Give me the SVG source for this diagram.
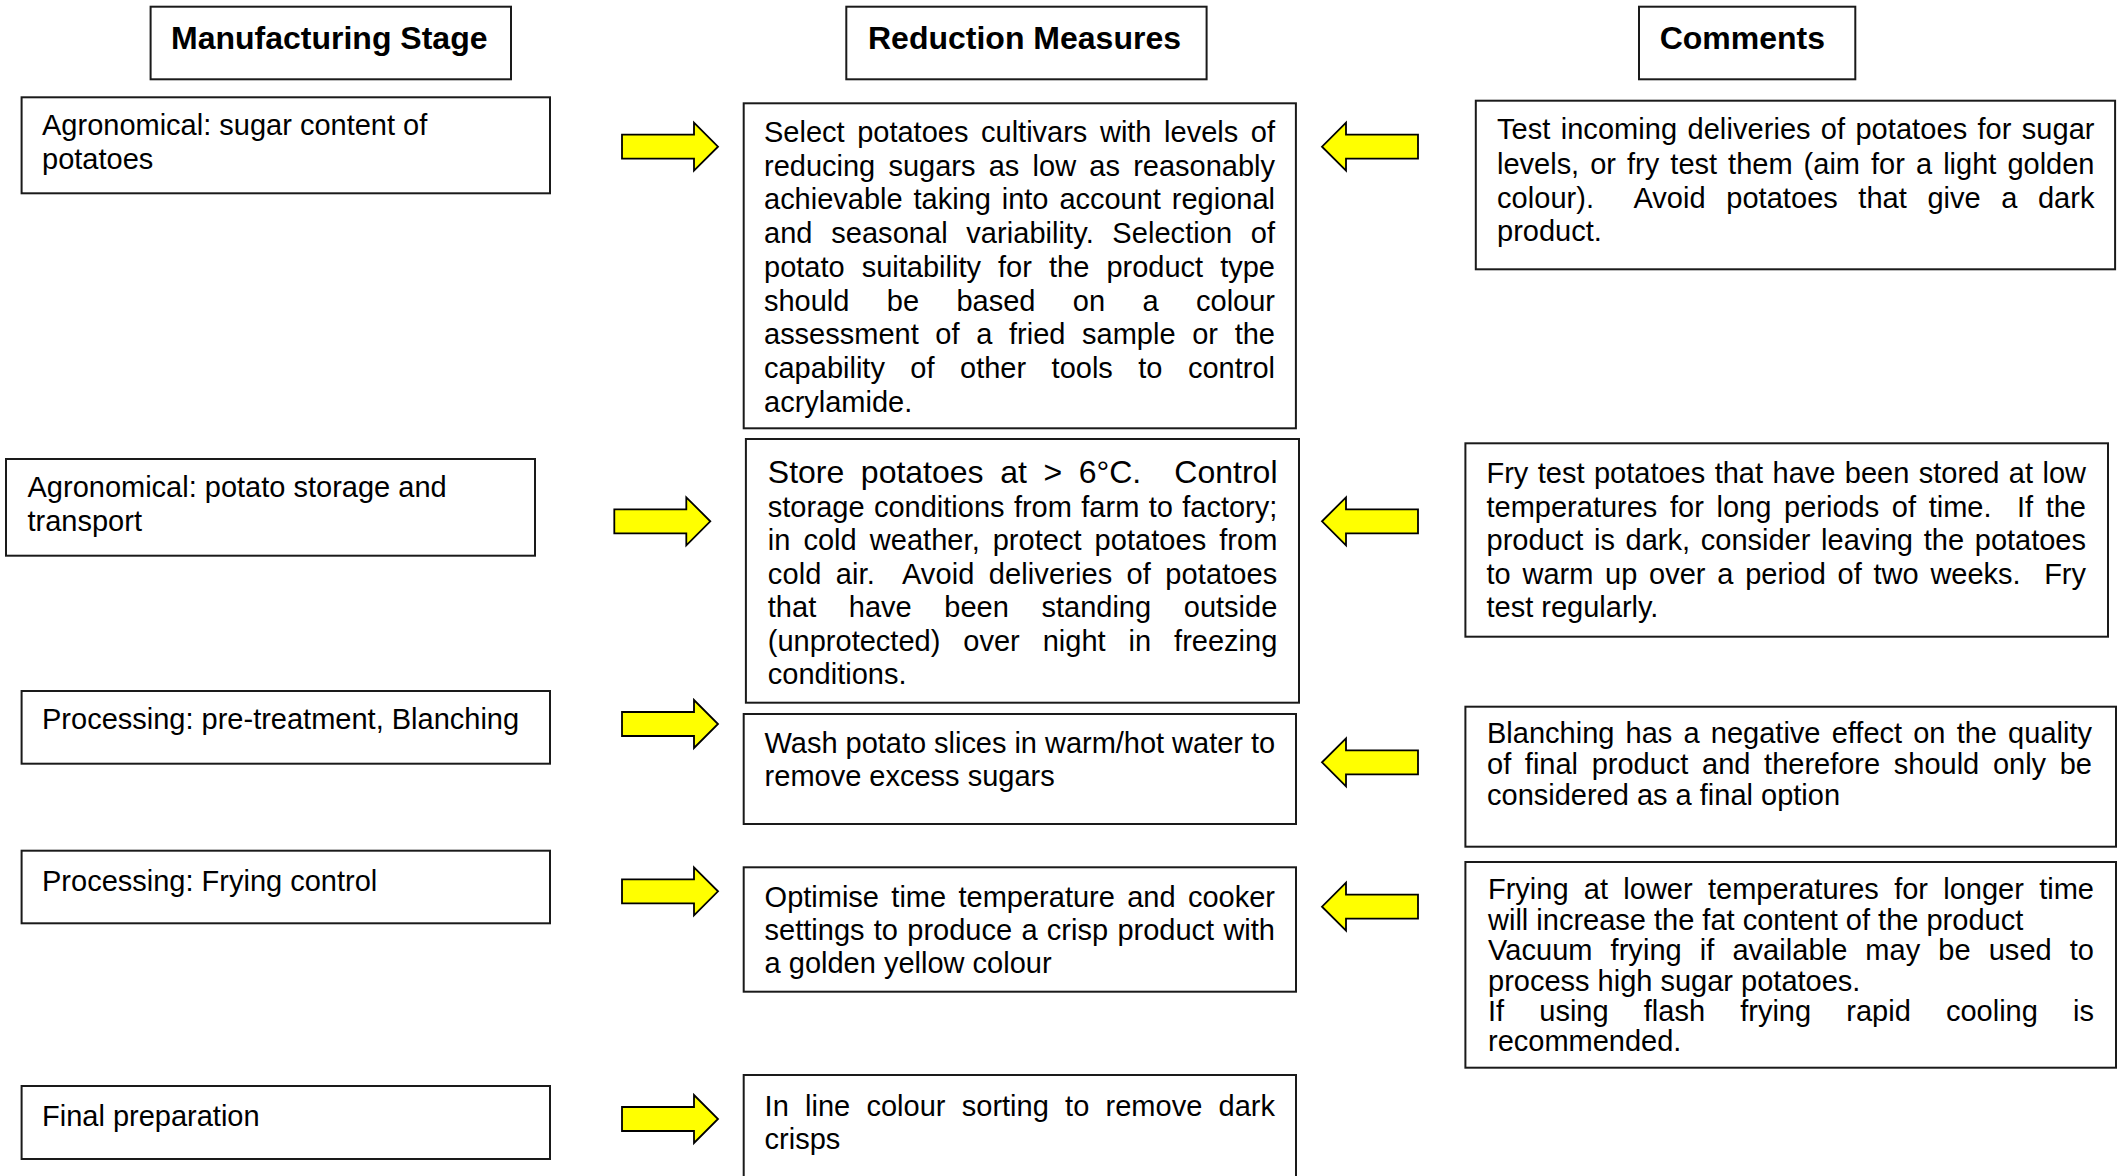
<svg xmlns="http://www.w3.org/2000/svg" xmlns:xlink="http://www.w3.org/1999/xlink" width="2125" height="1176" viewBox="0 0 2125 1176">
<style>
.box{fill:#fff;stroke:#1a1a1a;stroke-width:2}
.t{font-family:"Liberation Sans",Arial,sans-serif;font-size:29px;fill:#000}
.h{font-family:"Liberation Sans",Arial,sans-serif;font-size:32px;font-weight:bold;fill:#000}
.arr{fill:#ffff00;stroke:#000;stroke-width:1.8;stroke-linejoin:miter}
</style>
<defs>
<path id="arrR" d="M0,12 H72 V0 L96,24 L72,48 V36 H0 Z"/>
<path id="arrL" d="M96,12 H24 V0 L0,24 L24,48 V36 H96 Z"/>
</defs>
<rect width="2125" height="1176" fill="#fff"/>

<g id="header-stage">
<rect class="box" x="150.6" y="6.7" width="360.4" height="72.6"/>
<text class="h" x="171" y="49.3">Manufacturing Stage</text>
</g>
<g id="header-measures">
<rect class="box" x="846.3" y="6.7" width="360.3" height="72.6"/>
<text class="h" x="868" y="49.3">Reduction Measures</text>
</g>
<g id="header-comments">
<rect class="box" x="1639" y="6.7" width="216.3" height="72.6"/>
<text class="h" x="1659.7" y="49.3">Comments</text>
</g>

<g id="stage-sugar">
<rect class="box" x="21.6" y="97.3" width="528.4" height="96"/>
<text class="t" x="42" y="135">Agronomical: sugar content of</text>
<text class="t" x="42" y="168.5">potatoes</text>
</g>
<g id="stage-storage">
<rect class="box" x="6" y="459" width="529" height="96.7"/>
<text class="t" x="27.5" y="497.3">Agronomical: potato storage and</text>
<text class="t" x="27.5" y="530.7">transport</text>
</g>
<g id="stage-blanching">
<rect class="box" x="21.6" y="691" width="528.4" height="72.7"/>
<text class="t" x="42" y="729.3">Processing: pre-treatment, Blanching</text>
</g>
<g id="stage-frying">
<rect class="box" x="21.6" y="850.7" width="528.4" height="72.6"/>
<text class="t" x="42" y="890.5">Processing: Frying control</text>
</g>
<g id="stage-final">
<rect class="box" x="21.6" y="1086" width="528.4" height="73"/>
<text class="t" x="42" y="1126.3">Final preparation</text>
</g>

<g id="measure-cultivars">
<rect class="box" x="743.7" y="103.3" width="552.2" height="325"/>
<text class="t" x="764" y="142" style="word-spacing:4.53px" textLength="511" lengthAdjust="spacing">Select potatoes cultivars with levels of</text>
<text class="t" x="764" y="175.7" style="word-spacing:5.18px" textLength="511" lengthAdjust="spacing">reducing sugars as low as reasonably</text>
<text class="t" x="764" y="209.4" style="word-spacing:2.83px" textLength="511" lengthAdjust="spacing">achievable taking into account regional</text>
<text class="t" x="764" y="243.1" style="word-spacing:10.49px" textLength="511" lengthAdjust="spacing">and seasonal variability. Selection of</text>
<text class="t" x="764" y="276.8" style="word-spacing:9.04px" textLength="511" lengthAdjust="spacing">potato suitability for the product type</text>
<text class="t" x="764" y="310.5" style="word-spacing:29.34px" textLength="511" lengthAdjust="spacing">should be based on a colour</text>
<text class="t" x="764" y="344.2" style="word-spacing:8.6px" textLength="511" lengthAdjust="spacing">assessment of a fried sample or the</text>
<text class="t" x="764" y="377.9" style="word-spacing:17.42px" textLength="511" lengthAdjust="spacing">capability of other tools to control</text>
<text class="t" x="764" y="411.6">acrylamide.</text>
</g>
<g id="measure-storage">
<rect class="box" x="745.9" y="439" width="553.1" height="263.7"/>
<text class="t" x="767.8" y="483.3" style="font-size:32px;word-spacing:7.67px" xml:space="preserve" textLength="509.7" lengthAdjust="spacing">Store potatoes at &gt; 6°C.  Control</text>
<text class="t" x="767.8" y="516.8" style="word-spacing:1.29px" textLength="509.5" lengthAdjust="spacing">storage conditions from farm to factory;</text>
<text class="t" x="767.8" y="550.3" style="word-spacing:4.83px" textLength="509.5" lengthAdjust="spacing">in cold weather, protect potatoes from</text>
<text class="t" x="767.8" y="583.8" style="word-spacing:6.17px" xml:space="preserve" textLength="509.5" lengthAdjust="spacing">cold air.  Avoid deliveries of potatoes</text>
<text class="t" x="767.8" y="617.3" style="word-spacing:24.55px" textLength="509.5" lengthAdjust="spacing">that have been standing outside</text>
<text class="t" x="767.8" y="650.8" style="word-spacing:14.9px" textLength="509.5" lengthAdjust="spacing">(unprotected) over night in freezing</text>
<text class="t" x="767.8" y="684.3">conditions.</text>
</g>
<g id="measure-wash">
<rect class="box" x="743.7" y="714" width="552.3" height="110"/>
<text class="t" x="764.6" y="753" textLength="510.5" lengthAdjust="spacing">Wash potato slices in warm/hot water to</text>
<text class="t" x="764.6" y="786.3">remove excess sugars</text>
</g>
<g id="measure-frying">
<rect class="box" x="743.7" y="867.3" width="552.3" height="124.4"/>
<text class="t" x="764.6" y="906.5" style="word-spacing:4.31px" textLength="510.4" lengthAdjust="spacing">Optimise time temperature and cooker</text>
<text class="t" x="764.6" y="939.8" style="word-spacing:1.26px" textLength="510.4" lengthAdjust="spacing">settings to produce a crisp product with</text>
<text class="t" x="764.6" y="973.2">a golden yellow colour</text>
</g>
<g id="measure-sorting">
<path class="box" d="M743.7,1180 V1075 H1296 V1180"/>
<text class="t" x="764.6" y="1116" style="word-spacing:8.2px" textLength="510.4" lengthAdjust="spacing">In line colour sorting to remove dark</text>
<text class="t" x="764.6" y="1148.7">crisps</text>
</g>

<g id="comment-testing">
<rect class="box" x="1475.8" y="100.7" width="639.3" height="168.6"/>
<text class="t" x="1497" y="138.8" style="word-spacing:2.07px" textLength="597.5" lengthAdjust="spacing">Test incoming deliveries of potatoes for sugar</text>
<text class="t" x="1497" y="173.8" style="word-spacing:3px" textLength="597.5" lengthAdjust="spacing">levels, or fry test them (aim for a light golden</text>
<text class="t" x="1497" y="207.5" style="word-spacing:12.37px" xml:space="preserve" textLength="597.5" lengthAdjust="spacing">colour).  Avoid potatoes that give a dark</text>
<text class="t" x="1497" y="241">product.</text>
</g>
<g id="comment-storage">
<rect class="box" x="1465.4" y="443.3" width="642.6" height="193.4"/>
<text class="t" x="1486.5" y="483.3" style="word-spacing:1.39px" textLength="599.5" lengthAdjust="spacing">Fry test potatoes that have been stored at low</text>
<text class="t" x="1486.5" y="516.7" style="word-spacing:4.63px" xml:space="preserve" textLength="599.5" lengthAdjust="spacing">temperatures for long periods of time.  If the</text>
<text class="t" x="1486.5" y="550.3" style="word-spacing:2.67px" textLength="599.5" lengthAdjust="spacing">product is dark, consider leaving the potatoes</text>
<text class="t" x="1486.5" y="583.8" style="word-spacing:3.7px" xml:space="preserve" textLength="599.5" lengthAdjust="spacing">to warm up over a period of two weeks.  Fry</text>
<text class="t" x="1486.5" y="617.2">test regularly.</text>
</g>
<g id="comment-blanching">
<rect class="box" x="1465.4" y="706.7" width="650.6" height="140"/>
<text class="t" x="1487" y="742.7" style="word-spacing:3.07px" textLength="605" lengthAdjust="spacing">Blanching has a negative effect on the quality</text>
<text class="t" x="1487" y="773.6" style="word-spacing:5.6px" textLength="605" lengthAdjust="spacing">of final product and therefore should only be</text>
<text class="t" x="1487" y="804.5">considered as a final option</text>
</g>
<g id="comment-frying">
<rect class="box" x="1465.4" y="862" width="650.6" height="205.7"/>
<text class="t" x="1488" y="899.4" style="word-spacing:7.26px" textLength="606" lengthAdjust="spacing">Frying at lower temperatures for longer time</text>
<text class="t" x="1488" y="929.8">will increase the fat content of the product</text>
<text class="t" x="1488" y="960.2" style="word-spacing:9.9px" textLength="606" lengthAdjust="spacing">Vacuum frying if available may be used to</text>
<text class="t" x="1488" y="990.6">process high sugar potatoes.</text>
<text class="t" x="1488" y="1021" style="word-spacing:27.1px" textLength="606" lengthAdjust="spacing">If using flash frying rapid cooling is</text>
<text class="t" x="1488" y="1051.4">recommended.</text>
</g>

<g id="connectors">
<use class="arr" href="#arrR" xlink:href="#arrR" x="622" y="122.7"/>
<use class="arr" href="#arrR" xlink:href="#arrR" x="614.3" y="497.3"/>
<use class="arr" href="#arrR" xlink:href="#arrR" x="622" y="700"/>
<use class="arr" href="#arrR" xlink:href="#arrR" x="622" y="867.3"/>
<use class="arr" href="#arrR" xlink:href="#arrR" x="622" y="1095"/>
<use class="arr" href="#arrL" xlink:href="#arrL" x="1322" y="122.7"/>
<use class="arr" href="#arrL" xlink:href="#arrL" x="1322" y="497.3"/>
<use class="arr" href="#arrL" xlink:href="#arrL" x="1322" y="738.3"/>
<use class="arr" href="#arrL" xlink:href="#arrL" x="1322" y="882.7"/>
</g>
</svg>
